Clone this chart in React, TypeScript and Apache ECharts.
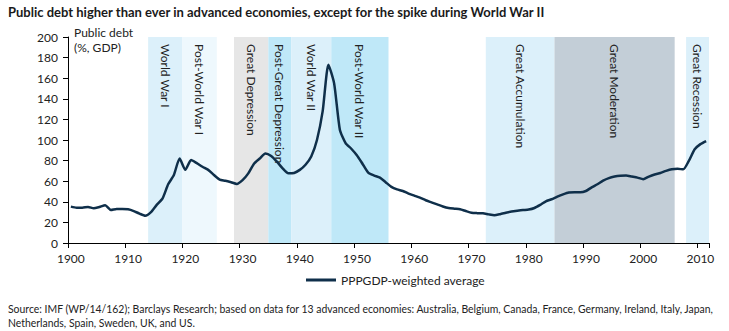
import React, { useEffect, useRef } from "react";
import * as echarts from "echarts";

const titleText =
  "Public debt higher than ever in advanced economies, except for the spike during World War II";
const sourceLine1 =
  "Source: IMF (WP/14/162); Barclays Research; based on data for 13 advanced economies: Australia, Belgium, Canada, France, Germany, Ireland, Italy, Japan,";
const sourceLine2 = "Netherlands, Spain, Sweden, UK, and US.";
const yAxisTitle = "Public debt\n(%, GDP)";
const seriesName = "PPPGDP-weighted average";

const firstYear = 1900;
const lastYear = 2011;
const years: string[] = [];
for (let y = firstYear; y <= lastYear; y++) years.push(String(y));

const debt = [
  35.3, 34.3, 34.3, 35, 33.7, 35, 36.6, 32, 33, 33, // 1900-1909
  32.7, 31, 28.5, 26.5, 30, 37, 43, 57, 66, 82, // 1910-1919
  71, 80.5, 77.5, 74, 71, 66, 61.5, 60.5, 59, 57.3, // 1920-1929
  61, 67.6, 77, 82, 87, 84.5, 79, 72.5, 67.6, 68, // 1930-1939
  71, 76, 84, 100, 128, 173, 155, 110, 97, 91.5, // 1940-1949
  85, 76.5, 68, 65.5, 63.5, 59, 54.5, 52, 50.5, 48, // 1950-1959
  46, 44, 41.5, 39.5, 37.5, 35.5, 34, 33.3, 32.7, 31, // 1960-1969
  29.4, 29, 28.8, 27.8, 27, 28, 29.3, 30.5, 31.3, 32, // 1970-1979
  32.5, 34, 37, 40.5, 42.5, 45, 47.2, 49, 49.3, 49.2, // 1980-1989
  50.5, 54, 57, 60.5, 63, 64.5, 65.3, 65.5, 64.5, 63.5, // 1990-1999
  62, 64.5, 66.5, 68, 70, 71.5, 72, 71.5, 80, 91, // 2000-2009
  96, 99, // 2010-2011
];

const bandNames = [
  "World War I",
  "Post-World War I",
  "Great Depression",
  "Post-Great Depression",
  "World War II",
  "Post-World War II",
  "Great Accumulation",
  "Great Moderation",
  "Great Recession",
];
const bandStart = [1914, 1920, 1929, 1935, 1939, 1946, 1973, 1985, 2008];
const bandEnd = [1920, 1926, 1935, 1939, 1946, 1956, 1985, 2006, 2012];
const bandColors = [
  "#dcf0fa",
  "#eef8fd",
  "#e6e6e6",
  "#bfe8f8",
  "#dcf0fa",
  "#bfe8f8",
  "#dcf0fa",
  "#c3ced7",
  "#dcf0fa",
];

const yMin = 0;
const yMax = 200;
const yStep = 20;
const labelEvery = 10;

const face = "Lato, 'Open Sans', sans-serif";
const titleFont = `bold 13px ${face}`;
const sourceFont = `11px ${face}`;

function textWidth(text: string, font: string): number {
  const ctx = document.createElement("canvas").getContext("2d");
  if (!ctx) return 0;
  ctx.font = font;
  return ctx.measureText(text).width;
}

function fitScale(text: string, font: string, target: number): number {
  const w = textWidth(text, font);
  return w > 0 ? Math.min(1, target / w) : 1;
}

export default function App() {
  const ref = useRef<HTMLDivElement>(null);

  useEffect(() => {
    if (!ref.current) return;
    const chart = echarts.init(ref.current, undefined, { renderer: "svg" });
    const titleScale = fitScale(titleText, titleFont, 564);
    const sourceScale = fitScale(sourceLine1, sourceFont, 707);
    const option: any = {
      animation: false,
      backgroundColor: "#ffffff",
      legend: {
        data: [seriesName],
        left: 306,
        top: 274,
        padding: 0,
        icon: "rect",
        itemWidth: 30,
        itemHeight: 3,
        itemGap: 0,
        textStyle: { fontFamily: face, fontSize: 12, color: "#222" },
      },
      graphic: [
        {
          type: "text",
          x: 8,
          y: 5,
          scaleX: titleScale,
          style: {
            text: titleText,
            font: titleFont,
            fill: "#1a1a1a",
            textVerticalAlign: "top",
          },
        },
        {
          type: "text",
          x: 8,
          y: 301,
          scaleX: sourceScale,
          style: {
            text: sourceLine1 + "\n" + sourceLine2,
            font: sourceFont,
            lineHeight: 14,
            fill: "#222",
            textVerticalAlign: "top",
          },
        },
        {
          type: "text",
          left: 74,
          top: 25,
          style: {
            text: yAxisTitle,
            font: `12px ${face}`,
            lineHeight: 15,
            fill: "#222",
          },
        },
      ],
      grid: { left: 68, right: 20, top: 37, bottom: 88 },
      xAxis: [
        {
          type: "category",
          data: years,
          boundaryGap: true,
          axisLine: { lineStyle: { color: "#000", width: 1 } },
          axisTick: {
            show: true,
            length: 5,
            alignWithLabel: false,
            interval: (i: number) => i % labelEvery === 0,
            lineStyle: { color: "#000" },
          },
          axisLabel: {
            interval: (i: number) => i % labelEvery === 0,
            fontFamily: face,
            fontSize: 12,
            color: "#222",
            margin: 9,
          },
          splitLine: { show: false },
        },
        {
          type: "value",
          min: firstYear,
          max: lastYear + 1,
          show: false,
          splitLine: { show: false },
        },
      ],
      yAxis: {
        type: "value",
        min: yMin,
        max: yMax,
        interval: yStep,
        axisLine: { show: true, lineStyle: { color: "#000", width: 1 } },
        axisTick: { show: true, length: 5, lineStyle: { color: "#000" } },
        axisLabel: { fontFamily: face, fontSize: 12, color: "#222", margin: 10 },
        splitLine: { show: false },
      },
      series: [
        {
          name: "bands",
          type: "line",
          xAxisIndex: 1,
          data: [],
          z: 1,
          silent: true,
          markArea: {
            silent: true,
            label: {
              show: true,
              position: "insideTop",
              rotate: -90,
              align: "left",
              verticalAlign: "middle",
              distance: 3,
              offset: [4, 0],
              fontFamily: face,
              fontSize: 12,
              color: "#222",
            },
            data: bandNames.map((n, i) => [
              { name: n, xAxis: bandStart[i], yAxis: yMax, itemStyle: { color: bandColors[i] } },
              { xAxis: bandEnd[i], yAxis: yMin },
            ]),
          },
        },
        {
          name: seriesName,
          type: "line",
          data: debt,
          z: 3,
          symbol: "none",
          smooth: 0.2,
          lineStyle: { color: "#0f2f4a", width: 2.5 },
          itemStyle: { color: "#0f2f4a" },
        },
      ],
    };
    chart.setOption(option);
    return () => chart.dispose();
  }, []);

  return <div ref={ref} style={{ width: 729, height: 331, position: "absolute", left: 0, top: 0 }} />;
}
